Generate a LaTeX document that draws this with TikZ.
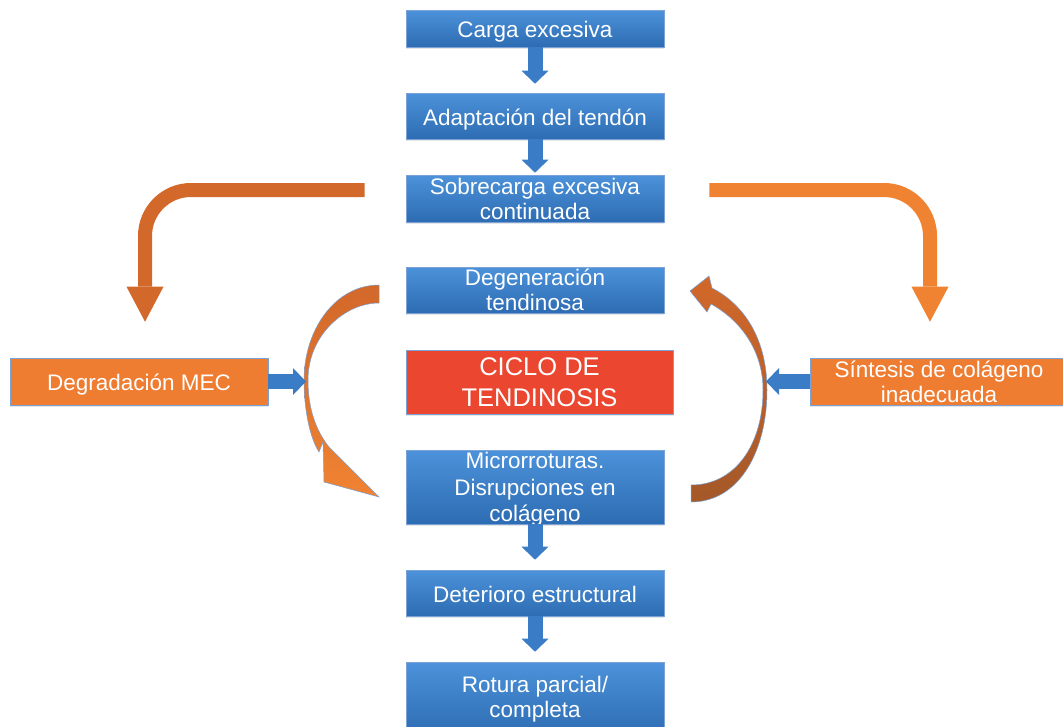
\documentclass[tikz,border=0pt]{standalone}
\usepackage{fontspec}
\setmainfont{Liberation Sans}
\usepackage{tikz}
\usetikzlibrary{arrows.meta,positioning,shadows}

\definecolor{boxtop}{RGB}{76,146,218}
\definecolor{boxbot}{RGB}{45,108,178}
\definecolor{boxline}{RGB}{122,162,214}
\definecolor{arrblue}{RGB}{58,124,198}
\definecolor{cyclered}{RGB}{235,70,48}
\definecolor{sideorange}{RGB}{238,124,49}
\definecolor{darkorange}{RGB}{210,104,42}
\definecolor{lightorange}{RGB}{240,131,50}
\definecolor{brownorange}{RGB}{164,88,40}

\begin{document}
\begin{tikzpicture}
    [x=1pt,y=-1pt,every node/.style={text=white,align=center,inner sep=0pt,font=\fontsize{22.5}{25}\selectfont},
     box/.style={draw=boxline,line width=.6pt,minimum width=258pt,drop shadow={opacity=.2,shadow xshift=0pt,shadow yshift=-2pt}},
     bluebox/.style={box,top color=boxtop,bottom color=boxbot},
     sidebox/.style={box,fill=sideorange},
     oneline/.style={text height=23pt,text depth=4.5pt},
     flowarrow/.style={draw=arrblue,line width=15pt,-{Triangle[length=13pt,width=27pt,line width=0pt]}},
     bentarrow/.style={line width=14pt,rounded corners=46pt,shorten >=36pt,-{Triangle[length=35pt,width=37pt,line width=0pt]}}]
    \useasboundingbox (0,0) rectangle (1063,726);
    \node[bluebox,oneline,minimum height=37pt] (n1) at (535,28.5) {Carga excesiva};
    \node[bluebox,oneline,minimum height=46pt] (n2) at (535,116)  {Adaptación del tendón};
    \node[bluebox,minimum height=47pt] (n3) at (535,198.5) {Sobrecarga excesiva\\continuada};
    \node[bluebox,minimum height=46pt] (n4) at (535,290)  {Degeneración\\tendinosa};
    \node[box,fill=cyclered,minimum width=267pt,minimum height=64pt,font=\fontsize{25.5}{31}\selectfont] (n5) at (539.5,382) {CICLO DE\\TENDINOSIS};
    \node[bluebox,minimum height=74pt,text depth=0pt,font=\fontsize{22.5}{26.5}\selectfont] (n6) at (535,487) {Microrroturas.\\Disrupciones en\\colágeno};
    \node[bluebox,oneline,minimum height=46pt] (n7) at (535,593)  {Deterioro estructural};
    \node[bluebox,minimum height=74pt] (n8) at (535,699)  {Rotura parcial/\\completa};
    \node[sidebox,oneline,minimum height=47pt] (n9) at (139,381.5) {Degradación MEC};
    \node[sidebox,minimum height=47pt] (n10) at (939,381.5) {Síntesis de colágeno\\inadecuada};
    \coordinate (cl) at (306,381.5);
    \coordinate (cr) at (766,381.5);
    % cycle arrows
    \shadedraw[top color=darkorange,bottom color=lightorange,draw=boxline,line width=.5pt]
      (379,285) .. controls (335,285) and (304,330) .. (304,380)
      .. controls (304,410) and (310,438) .. (319,452) -- (323,442) -- (324,482) -- (379,497) -- (329,447)
      .. controls (314,428) and (308,405) .. (308,380)
      .. controls (308,335) and (345,303) .. (379,303) -- cycle;
    \shadedraw[top color=darkorange,bottom color=brownorange,draw=boxline,line width=.5pt]
      (691,502) .. controls (740,502) and (767,450) .. (767,390)
      .. controls (767,340) and (745,305) .. (712,288) -- (709,276) -- (690,291) -- (707,312) -- (711,304)
      .. controls (740,320) and (763,350) .. (763,390)
      .. controls (763,445) and (735,485) .. (691,485) -- cycle;
    \foreach \from/\to/\gap in {n1/n2/9pt,n2/n3/2pt,n6/n7/10pt,n7/n8/10pt}
      \draw [flowarrow,shorten >=\gap] (\from) -- (\to);
    \draw [flowarrow] (n9) -- (cl);
    \draw [flowarrow] (n10) -- (cr);
    \draw [bentarrow,draw=darkorange] ([xshift=-41pt,yshift=8.5pt]n3.west) -| ([xshift=6pt]n9.north);
    \draw [bentarrow,draw=lightorange] ([xshift=45pt,yshift=8.5pt]n3.east) -| ([xshift=-9pt]n10.north);
  \end{tikzpicture}
\end{document}
